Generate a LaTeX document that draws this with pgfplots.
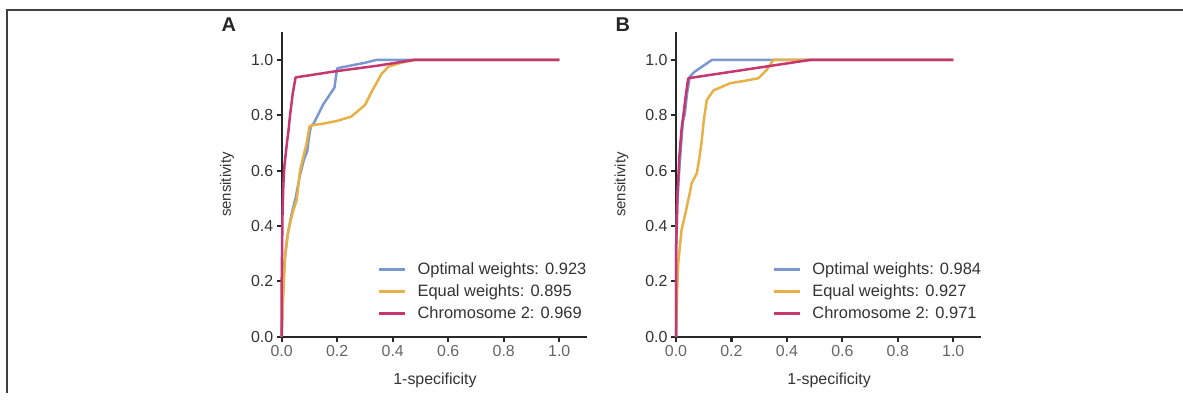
\documentclass[border=0pt]{standalone}
\usepackage{pgfplots}
\pgfplotsset{compat=1.18}
\usepackage{fontspec}
\setmainfont{Liberation Sans}
\definecolor{cblue}{RGB}{122,152,207}
\definecolor{cyellow}{RGB}{232,177,72}
\definecolor{cmag}{RGB}{198,54,112}
\definecolor{axc}{RGB}{40,40,40}
\pgfplotsset{
  rocaxis/.style={
    anchor=south west,
    scale only axis, height=304.4bp,
    xmin=0, xmax=1.1, ymin=0, ymax=1.1,
    axis x line=bottom, axis y line=left,
    axis line style={-, line width=2.2bp, axc},
    xtick={0,0.2,0.4,0.6,0.8,1.0}, ytick={0,0.2,0.4,0.6,0.8,1.0},
    tick align=outside, major tick length=5bp,
    tick style={line width=2.2bp, axc},
    /pgf/number format/assume math mode=true,
    xticklabel style={font=\fontsize{16}{19}\selectfont, text=black!60, /pgf/number format/fixed, /pgf/number format/fixed zerofill, /pgf/number format/precision=1},
    yticklabel style={font=\fontsize{16}{19}\selectfont, text=black!80, /pgf/number format/fixed, /pgf/number format/fixed zerofill, /pgf/number format/precision=1},
    xlabel={1-specificity}, ylabel={sensitivity},
    xlabel style={at={(axis description cs:0.502,-0.142)}, anchor=center, font=\fontsize{16}{19}\selectfont, text=black!80},
    ylabel style={at={(axis description cs:-0.179,0.5)}, anchor=center, font=\fontsize{15}{18}\selectfont, text=black!80},
    clip=false,
    legend cell align=left,
    legend style={draw=none, fill=none, anchor=north west, inner sep=0pt,
      nodes={inner sep=0pt, text depth=0.21em, font=\fontsize{16.5}{19}\selectfont, text=black!80},
      row sep=8bp,
      /tikz/every odd column/.append style={column sep=11bp}},
  }
}
\begin{document}
\begin{tikzpicture}
\useasboundingbox (0bp,0bp) rectangle (1183bp,403bp);
\draw[line width=2bp, black!75] (7bp,10bp) -- (7bp,392.5bp) -- (1183bp,392.5bp);

\begin{axis}[rocaxis, at={(281.7bp,66.3bp)}, width=305.3bp,
  legend style={at={(axis description cs:0.315,0.244)}},
  legend image code/.code={\draw[#1] (0bp,0bp) -- (26bp,0bp);}]
\addplot[cblue, line width=2.5bp, line join=round] coordinates {(0,0)(0.003,0.1)(0.006,0.2)(0.01,0.27)(0.02,0.36)(0.035,0.44)(0.05,0.5)(0.065,0.58)(0.08,0.64)(0.092,0.67)(0.098,0.72)(0.105,0.76)(0.115,0.77)(0.13,0.8)(0.15,0.84)(0.17,0.87)(0.19,0.9)(0.197,0.95)(0.2,0.97)(0.25,0.98)(0.3,0.99)(0.34,1.0)(1.0,1.0)};
\addlegendentry{Optimal weights: 0.923}
\addplot[cyellow, line width=2.5bp, line join=round] coordinates {(0,0)(0.004,0.12)(0.008,0.2)(0.012,0.29)(0.024,0.386)(0.04,0.45)(0.054,0.494)(0.066,0.6)(0.08,0.66)(0.09,0.7)(0.1,0.76)(0.115,0.765)(0.15,0.77)(0.2,0.78)(0.25,0.795)(0.3,0.837)(0.324,0.885)(0.36,0.95)(0.385,0.976)(0.43,0.99)(0.48,1.0)(1.0,1.0)};
\addlegendentry{Equal weights: 0.895}
\addplot[cmag, line width=2.5bp, line join=round] coordinates {(0,0)(0,0.2)(0.003,0.45)(0.006,0.55)(0.01,0.62)(0.02,0.71)(0.024,0.74)(0.03,0.8)(0.04,0.88)(0.05,0.937)(0.2,0.96)(0.35,0.98)(0.475,1.0)(1.0,1.0)};
\addlegendentry{Chromosome 2: 0.969}
\node[font=\bfseries\fontsize{20}{24}\selectfont, text=black!85] at (axis description cs:-0.173,1.024) {A};
\end{axis}

\begin{axis}[rocaxis, at={(676bp,66.3bp)}, width=305bp,
  legend style={at={(axis description cs:0.317,0.244)}},
  legend image code/.code={\draw[#1] (0bp,0bp) -- (26bp,0bp);}]
\addplot[cblue, line width=2.5bp, line join=round] coordinates {(0,0)(0,0.3)(0.005,0.5)(0.015,0.65)(0.025,0.78)(0.032,0.807)(0.04,0.88)(0.05,0.94)(0.068,0.958)(0.1,0.98)(0.129,1.0)(1.0,1.0)};
\addlegendentry{Optimal weights: 0.984}
\addplot[cyellow, line width=2.5bp, line join=round] coordinates {(0,0)(0.003,0.12)(0.005,0.2)(0.008,0.265)(0.02,0.386)(0.035,0.45)(0.044,0.494)(0.05,0.52)(0.056,0.554)(0.075,0.59)(0.085,0.65)(0.093,0.71)(0.1,0.78)(0.111,0.855)(0.135,0.89)(0.195,0.916)(0.25,0.925)(0.297,0.934)(0.327,0.964)(0.351,1.0)(1.0,1.0)};
\addlegendentry{Equal weights: 0.927}
\addplot[cmag, line width=2.5bp, line join=round] coordinates {(0,0)(0,0.3)(0.005,0.5)(0.012,0.65)(0.02,0.75)(0.026,0.795)(0.035,0.87)(0.044,0.934)(0.483,1.0)(1.0,1.0)};
\addlegendentry{Chromosome 2: 0.971}
\node[font=\bfseries\fontsize{20}{24}\selectfont, text=black!85] at (axis description cs:-0.174,1.024) {B};
\end{axis}
\end{tikzpicture}
\end{document}
